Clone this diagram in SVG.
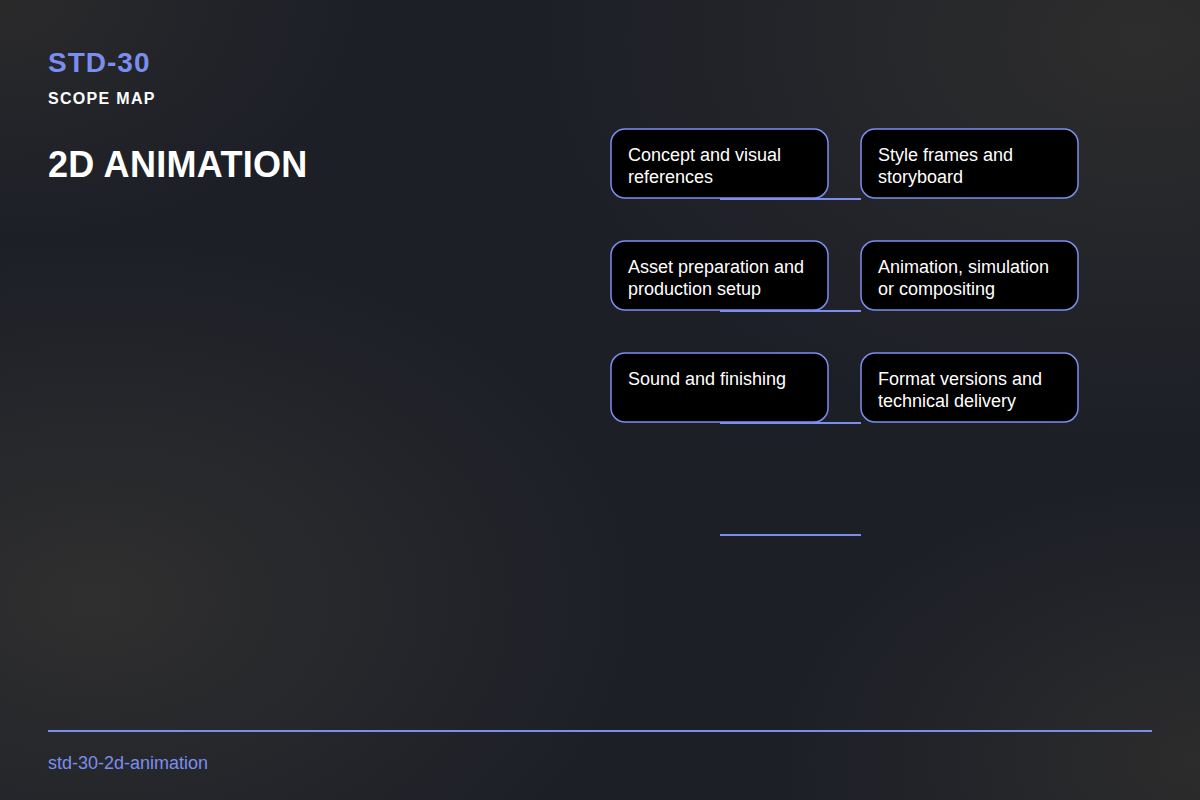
<svg xmlns="http://www.w3.org/2000/svg" width="1200" height="800" viewBox="0 0 1200 800">
<defs>
<radialGradient id="g1" cx="0.08" cy="0.75" r="0.45">
<stop offset="0" stop-color="#2f2f2f" stop-opacity="1"/>
<stop offset="1" stop-color="#2f2f2f" stop-opacity="0"/>
</radialGradient>
<radialGradient id="g2" cx="0.95" cy="0.05" r="0.5">
<stop offset="0" stop-color="#2d2d2d" stop-opacity="1"/>
<stop offset="1" stop-color="#2d2d2d" stop-opacity="0"/>
</radialGradient>
<radialGradient id="g3" cx="1" cy="0.95" r="0.35">
<stop offset="0" stop-color="#2c2c2c" stop-opacity="1"/>
<stop offset="1" stop-color="#2c2c2c" stop-opacity="0"/>
</radialGradient>
<radialGradient id="g4" cx="0" cy="0" r="0.3">
<stop offset="0" stop-color="#2a2a2b" stop-opacity="1"/>
<stop offset="1" stop-color="#2a2a2b" stop-opacity="0"/>
</radialGradient>
<style>
.node rect{fill:#000;stroke:#7b8ef0;stroke-width:1.5}
.node text{fill:#fff;font-family:"Liberation Sans",Arial,sans-serif;font-size:18px}
.conn line{stroke:#7b8ef0;stroke-width:2}
</style>
</defs>
<rect width="1200" height="800" fill="#1d1f27"/>
<rect width="1200" height="800" fill="url(#g1)"/>
<rect width="1200" height="800" fill="url(#g2)"/>
<rect width="1200" height="800" fill="url(#g3)"/>
<rect width="1200" height="800" fill="url(#g4)"/>
<text x="48" y="72" font-family="Liberation Sans,Arial,sans-serif" font-size="28" font-weight="bold" letter-spacing="1" fill="#7b8ef0">STD-30</text>
<text x="48" y="104" font-family="Liberation Sans,Arial,sans-serif" font-size="16" font-weight="bold" letter-spacing="1.3" fill="#fff">SCOPE MAP</text>
<text x="48" y="177" font-family="Liberation Sans,Arial,sans-serif" font-size="36" font-weight="bold" letter-spacing="0.3" fill="#fff">2D ANIMATION</text>
<g class="conn">
<line x1="720" y1="199" x2="861" y2="199"/>
<line x1="720" y1="311" x2="861" y2="311"/>
<line x1="720" y1="423" x2="861" y2="423"/>
<line x1="720" y1="535" x2="861" y2="535"/>
</g>
<g id="n1" class="node"><rect x="611" y="129" width="217" height="69" rx="14"/><text x="628" y="161">Concept and visual</text><text x="628" y="183">references</text></g>
<g id="n2" class="node"><rect x="861" y="129" width="217" height="69" rx="14"/><text x="878" y="161">Style frames and</text><text x="878" y="183">storyboard</text></g>
<g id="n3" class="node"><rect x="611" y="241" width="217" height="69" rx="14"/><text x="628" y="273">Asset preparation and</text><text x="628" y="295">production setup</text></g>
<g id="n4" class="node"><rect x="861" y="241" width="217" height="69" rx="14"/><text x="878" y="273">Animation, simulation</text><text x="878" y="295">or compositing</text></g>
<g id="n5" class="node"><rect x="611" y="353" width="217" height="69" rx="14"/><text x="628" y="385">Sound and finishing</text></g>
<g id="n6" class="node"><rect x="861" y="353" width="217" height="69" rx="14"/><text x="878" y="385">Format versions and</text><text x="878" y="407">technical delivery</text></g>
<line x1="48" y1="731" x2="1152" y2="731" stroke="#7b8ef0" stroke-width="2"/>
<text x="48" y="769" font-family="Liberation Sans,Arial,sans-serif" font-size="18" fill="#7b8ef0">std-30-2d-animation</text>
</svg>
